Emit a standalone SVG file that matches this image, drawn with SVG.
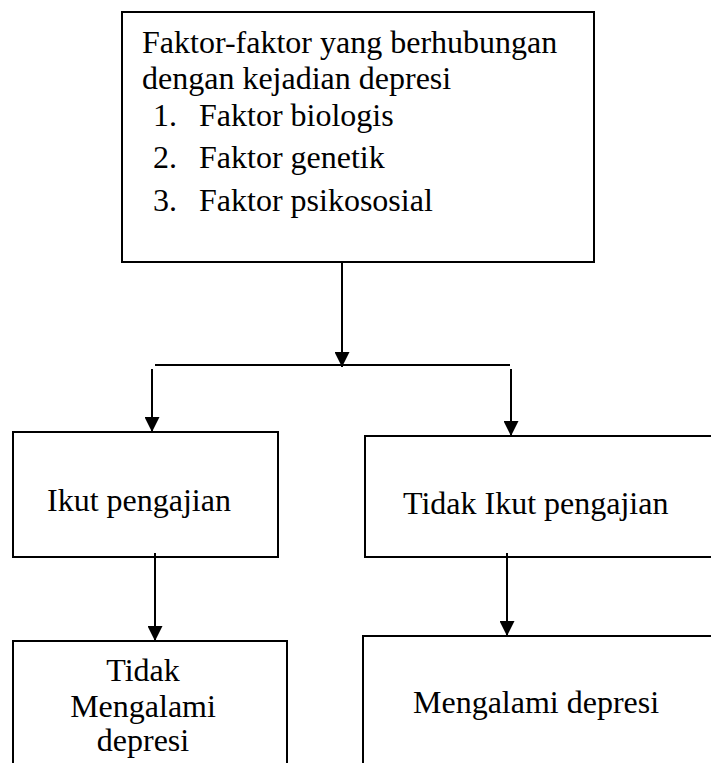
<svg xmlns="http://www.w3.org/2000/svg" width="711" height="763" viewBox="0 0 711 763">
<style>
.box{fill:#fff;stroke:#000;stroke-width:2}
.t{font-family:"Liberation Serif","Times New Roman",serif;font-size:32px;fill:#000}
.c{text-anchor:middle}
.ln{stroke:#000;stroke-width:2;fill:none}
</style>
<defs>
<marker id="ah" viewBox="0 0 15 15" markerWidth="15" markerHeight="15" refX="15" refY="7.5" orient="auto" markerUnits="userSpaceOnUse">
<path d="M0,0 L15,7.5 L0,15 z" fill="#000"/>
</marker>
</defs>
<rect width="711" height="763" fill="#fff"/>
<g id="faktor">
<rect class="box" x="122" y="12" width="472" height="250"/>
<text class="t" x="142" y="53">Faktor-faktor yang berhubungan</text>
<text class="t" x="142" y="89">dengan kejadian depresi</text>
<text class="t" x="153" y="126">1.</text><text class="t" x="199" y="126">Faktor biologis</text>
<text class="t" x="153" y="168">2.</text><text class="t" x="199" y="168">Faktor genetik</text>
<text class="t" x="153" y="211">3.</text><text class="t" x="199" y="211">Faktor psikososial</text>
</g>
<g id="ikut">
<rect class="box" x="13" y="432" width="265" height="125"/>
<text class="t" x="47" y="511">Ikut pengajian</text>
</g>
<g id="tidak-ikut">
<rect class="box" x="365" y="436" width="360" height="121"/>
<text class="t" x="403" y="514">Tidak Ikut pengajian</text>
</g>
<g id="tidak-depresi">
<rect class="box" x="13" y="641" width="274" height="140"/>
<text class="t c" x="143" y="681">Tidak</text>
<text class="t c" x="143" y="717">Mengalami</text>
<text class="t c" x="143" y="751">depresi</text>
</g>
<g id="depresi">
<rect class="box" x="363" y="636" width="362" height="140"/>
<text class="t" x="413" y="713">Mengalami depresi</text>
</g>
<g id="connectors">
<line class="ln" x1="342" y1="262" x2="342" y2="367" marker-end="url(#ah)"/>
<line class="ln" x1="155" y1="365" x2="510" y2="365"/>
<line class="ln" x1="152" y1="369" x2="152" y2="432" marker-end="url(#ah)"/>
<line class="ln" x1="511" y1="369" x2="511" y2="436" marker-end="url(#ah)"/>
<line class="ln" x1="155" y1="553" x2="155" y2="641" marker-end="url(#ah)"/>
<line class="ln" x1="507" y1="553" x2="507" y2="636" marker-end="url(#ah)"/>
</g>
</svg>
